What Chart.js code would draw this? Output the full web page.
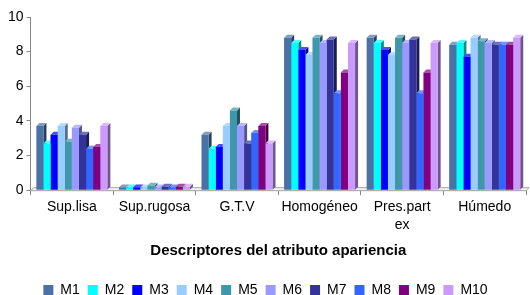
<!DOCTYPE html>
<html>
<head>
<meta charset="utf-8">
<script src="https://cdn.jsdelivr.net/npm/chart.js@4.4.1/dist/chart.umd.min.js"></script>
<style>
  html, body { margin: 0; padding: 0; background: #fff; }
  #wrap { width: 530px; height: 295px; }
</style>
</head>
<body>
<div id="wrap"><canvas id="chart" width="530" height="295"></canvas></div>
<script>
const categories = ['Sup.lisa', 'Sup.rugosa', 'G.T.V', 'Homogéneo', ['Pres.part', 'ex'], 'Húmedo'];
const seriesNames = ['M1', 'M2', 'M3', 'M4', 'M5', 'M6', 'M7', 'M8', 'M9', 'M10'];
const seriesColors = ['#4A72A6', '#00FFFF', '#0000FF', '#99CCFF', '#3F97AB', '#9999FF', '#333399', '#3366FF', '#800080', '#CC99FF'];

// valores por serie, en el orden de las categorias
const m1 = [3.7, 0.15, 3.2, 8.8, 8.8, 8.4];
const m2 = [2.7, 0.15, 2.4, 8.5, 8.5, 8.5];
const m3 = [3.2, 0.15, 2.5, 8.1, 8.1, 7.7];
const m4 = [3.7, 0.15, 3.7, 7.8, 7.8, 8.8];
const m5 = [2.8, 0.25, 4.6, 8.8, 8.8, 8.6];
const m6 = [3.6, 0.15, 3.7, 8.5, 8.5, 8.5];
const m7 = [3.2, 0.2, 2.7, 8.7, 8.7, 8.4];
const m8 = [2.4, 0.15, 3.3, 5.6, 5.6, 8.4];
const m9 = [2.5, 0.2, 3.7, 6.8, 6.8, 8.4];
const m10 = [3.7, 0.2, 2.7, 8.5, 8.5, 8.8];
const seriesValues = [m1, m2, m3, m4, m5, m6, m7, m8, m9, m10];

const yTicks = [0, 2, 4, 6, 8, 10];

const shade = (hex, f) => {
    const n = parseInt(hex.slice(1), 16);
    let r = (n >> 16) & 255, g = (n >> 8) & 255, b = n & 255;
    if (f < 0) {
        r = Math.round(r * (1 + f)); g = Math.round(g * (1 + f)); b = Math.round(b * (1 + f));
    } else {
        r = Math.round(r + (255 - r) * f); g = Math.round(g + (255 - g) * f); b = Math.round(b + (255 - b) * f);
    }
    return `rgb(${r},${g},${b})`;
};

// caras laterales y superiores para imitar las columnas 3D
const depth = 3;
const bars3d = {
    id: 'bars3d',
    beforeDatasetsDraw(chart) {
        const ctx = chart.ctx;
        const area = chart.chartArea;
        // suelo
        ctx.save();
        ctx.fillStyle = '#f2f2f2';
        ctx.strokeStyle = '#a6a6a6';
        ctx.lineWidth = 1;
        ctx.beginPath();
        ctx.moveTo(area.left, area.bottom + 0.5);
        ctx.lineTo(area.left + depth, area.bottom - depth + 0.5);
        ctx.lineTo(area.right + depth, area.bottom - depth + 0.5);
        ctx.lineTo(area.right, area.bottom + 0.5);
        ctx.closePath();
        ctx.fill();
        ctx.stroke();
        chart.data.datasets.forEach((ds, di) => {
            const meta = chart.getDatasetMeta(di);
            meta.data.forEach((bar) => {
                const p = bar.getProps(['x', 'y', 'base', 'width'], true);
                const left = p.x - p.width / 2;
                const right = p.x + p.width / 2;
                ctx.fillStyle = shade(ds.backgroundColor, -0.45);
                ctx.beginPath();
                ctx.moveTo(right, p.y);
                ctx.lineTo(right + depth, p.y - depth);
                ctx.lineTo(right + depth, p.base - depth);
                ctx.lineTo(right, p.base);
                ctx.closePath();
                ctx.fill();
                ctx.fillStyle = shade(ds.backgroundColor, 0.3);
                ctx.beginPath();
                ctx.moveTo(left, p.y);
                ctx.lineTo(left + depth, p.y - depth);
                ctx.lineTo(right + depth, p.y - depth);
                ctx.lineTo(right, p.y);
                ctx.closePath();
                ctx.fill();
            });
        });
        ctx.restore();
    }
};

const datasets = seriesNames.map((name, i) => ({
    label: name,
    data: seriesValues[i],
    backgroundColor: seriesColors[i],
    borderWidth: 0,
    barPercentage: 1.0,
    categoryPercentage: 0.86
}));

new Chart(document.getElementById('chart'), {
    type: 'bar',
    data: { labels: categories, datasets: datasets },
    plugins: [bars3d],
    options: {
        responsive: false,
        animation: false,
        layout: { padding: { left: 5, right: 4, top: 17, bottom: -12 } },
        plugins: {
            tooltip: { enabled: false },
            legend: {
                position: 'bottom',
                labels: {
                    boxWidth: 10,
                    boxHeight: 10,
                    padding: 8,
                    color: '#000',
                    font: { family: 'Liberation Sans', size: 14 }
                }
            }
        },
        scales: {
            x: {
                grid: { drawOnChartArea: false, tickLength: 5, color: '#868686', offset: true },
                border: { color: '#868686' },
                ticks: {
                    color: '#000',
                    maxRotation: 0,
                    autoSkip: false,
                    padding: 2,
                    font: { family: 'Liberation Sans', size: 14, lineHeight: 1.35 }
                },
                title: {
                    display: true,
                    text: 'Descriptores del atributo apariencia',
                    color: '#000',
                    padding: { top: 5, bottom: 15 },
                    font: { family: 'Liberation Sans', size: 15, weight: 'bold' }
                }
            },
            y: {
                min: 0,
                max: 10,
                afterBuildTicks: (axis) => { axis.ticks = yTicks.map(v => ({ value: v })); },
                grid: { drawOnChartArea: false, tickLength: 4, color: '#868686' },
                border: { color: '#868686' },
                ticks: {
                    color: '#000',
                    padding: 3,
                    font: { family: 'Liberation Sans', size: 14 }
                }
            }
        }
    }
});
</script>
</body>
</html>
